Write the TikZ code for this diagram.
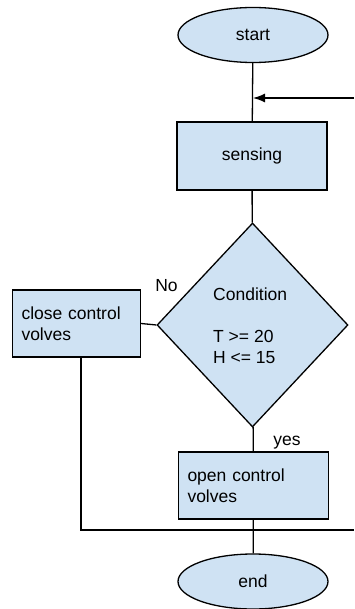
\documentclass[tikz,border=0pt]{standalone}
\usepackage{fontspec}
\setmainfont{Liberation Sans}
\usetikzlibrary{shapes.geometric,arrows.meta}
\definecolor{boxblue}{HTML}{CFE2F3}
\begin{document}
\begin{tikzpicture}[x=1pt,y=-1pt,
  every node/.style={font=\fontsize{17.5}{21}\selectfont},
  ln/.style={line width=1.3pt,black},
  shp/.style={draw=black,line width=1.3pt,fill=boxblue,inner sep=0pt},
  term/.style={shp,ellipse,minimum width=150pt,minimum height=55pt},
  procbox/.style={shp,rectangle},
  txt/.style={inner sep=0pt,align=left}]
\useasboundingbox (0,0) rectangle (354,609);
\node[term] (start) at (253,35) {start};
\node[procbox,minimum width=150pt,minimum height=68pt] (sensing) at (252,156) {sensing};
\node[shp,diamond,minimum width=191pt,minimum height=204pt] (cond) at (252.5,325) {};
\node[txt,anchor=west] (condtext) at (213,326) {Condition\\[21pt]T >= 20\\H <= 15};
\node[procbox,minimum width=127pt,minimum height=67pt,text width=110pt,align=left,inner xsep=9pt] (close) at (76.5,323.5) {close control\\volves};
\node[procbox,minimum width=149pt,minimum height=67pt,text width=132pt,align=left,inner xsep=9pt] (open) at (253.5,485.5) {open control\\volves};
\node[term] (end) at (253,581.5) {end};
\node[txt,anchor=base] (no) at (166.5,291) {No};
\node[txt,anchor=base] (yes) at (287,445) {yes};
\coordinate (j1) at (253,98);
\coordinate (rtop) at (354,98);
\coordinate (c1) at (81,530);
\coordinate (rbot) at (354,530);
\draw[ln] (start) -- (sensing);
\draw[ln,-{Latex[length=12pt,width=9pt]}] (rtop) -- (j1);
\draw[ln] (sensing) -- (cond);
\draw[ln] (close.east) -- (cond.west);
\draw[ln] (cond) -- (open);
\draw[ln] (open) -- (end);
\draw[ln] (close.south -| c1) -- (c1) -- (rbot);
\end{tikzpicture}
\end{document}
